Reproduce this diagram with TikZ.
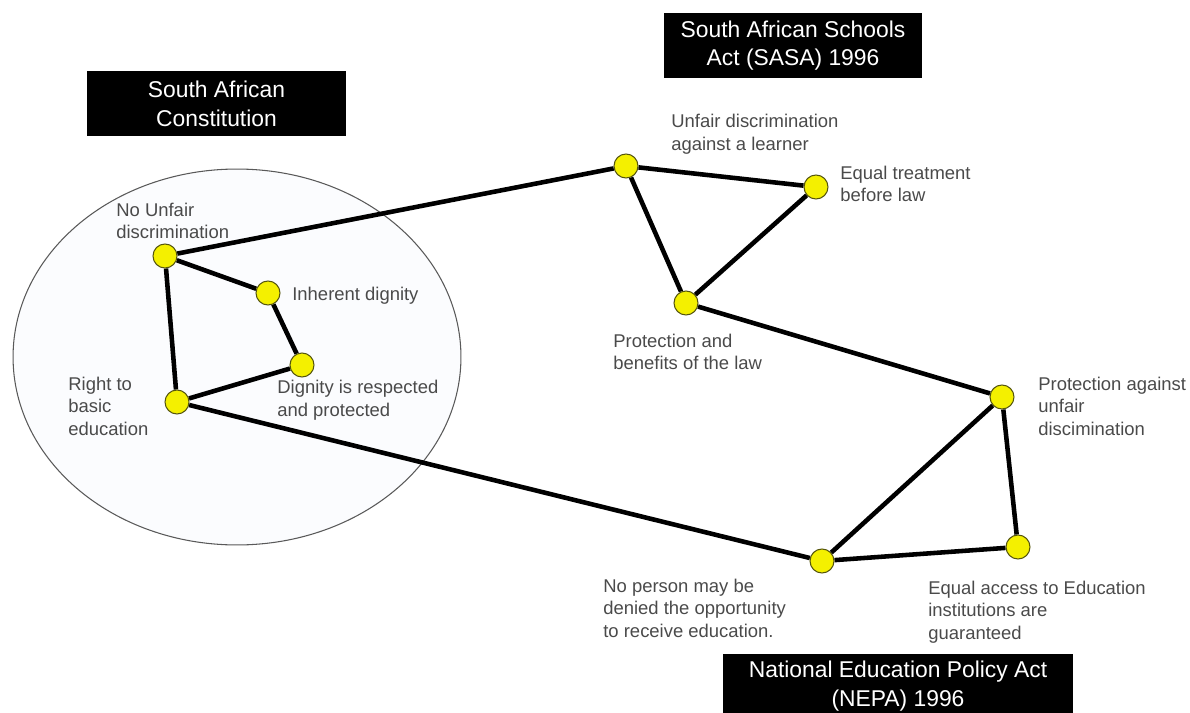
\documentclass[tikz,border=0pt]{standalone}
\usepackage{fontspec}
\setmainfont{Liberation Sans}
\usetikzlibrary{shapes.geometric}
\pgfdeclarelayer{background}
\pgfsetlayers{background,main}
\definecolor{dotyellow}{HTML}{F4F000}
\definecolor{dotrim}{HTML}{55550E}
\definecolor{notegray}{HTML}{4A4A4A}
\definecolor{lawfill}{HTML}{FBFCFE}
\tikzstyle{vertex}=[circle,fill=dotyellow,draw=dotrim,line width=0.6pt,minimum size=0.48cm,inner sep=0pt]
\tikzstyle{edge} = [draw,line width=2.6pt]
\tikzstyle{note} = [font=\fontsize{10.5}{12.8}\selectfont,text=notegray,align=left,anchor=west,inner sep=0pt]
\tikzstyle{act} = [fill=black,text=white,font=\fontsize{13}{16.4}\selectfont,align=center,inner sep=0pt,minimum height=1.3cm]

\begin{document}
\begin{tikzpicture}[x=0.02cm,y=-0.02cm]
				\useasboundingbox (0,0) rectangle (1190,713);

				% The three acts
				\node[act,minimum width=5.18cm] (sac) at (216.5,103.5) {South African\\Constitution};
				\node[act,minimum width=5.16cm] (sasa) at (793,45.5) {South African Schools\\Act (SASA) 1996};
				\node[act,minimum width=7cm] (nepa) at (898,686) {National Education Policy Act\\(NEPA) 1996};

				% First we draw the vertices
				\foreach \pos/\name in {{(165,256)/nu}, {(268,293)/id}, {(302,365)/dr}, {(177,402)/rb},
										{(626,166)/ud}, {(816,187)/et}, {(686,303)/pb},
										{(1002,397)/pa}, {(1018,547)/ea}, {(822,561)/np}}
				\node[vertex] (\name) at \pos {};

				% Then the texts next to them
				\foreach \pos/\name/\txt in {{(116,221)/nu/{No Unfair\\discrimination}}, {(292,296)/id/{Inherent dignity}},
										{(277,400)/dr/{Dignity is respected\\and protected}}, {(68,406)/rb/{Right to\\basic\\education}},
										{(671,134)/ud/{Unfair discrimination\\against a learner}}, {(840,184)/et/{Equal treatment\\before law}},
										{(613,352)/pb/{Protection and\\benefits of the law}}, {(1038,406)/pa/{Protection against\\unfair\\discimination}},
										{(603,608)/np/{No person may be\\denied the opportunity\\to receive education.}},
										{(928,612)/ea/{Equal access to Education\\institutions are\\guaranteed}}}
				\node[note] (t\name) at \pos {\txt};

				\begin{pgfonlayer}{background}
				% The constitution ring
				\node[ellipse,draw=black!65,fill=lawfill,line width=0.6pt,minimum width=8.96cm,minimum height=7.52cm] (ring) at (237,357) {};

				% Connect vertices with edges
				\foreach \source/ \dest in {nu/ud, nu/id, id/dr, dr/rb, rb/nu, rb/np, ud/et, ud/pb, et/pb,
										pb/pa, pa/np, pa/ea, ea/np}
				\path[edge] (\source) -- (\dest);
				\end{pgfonlayer}

			\end{tikzpicture}
\end{document}
